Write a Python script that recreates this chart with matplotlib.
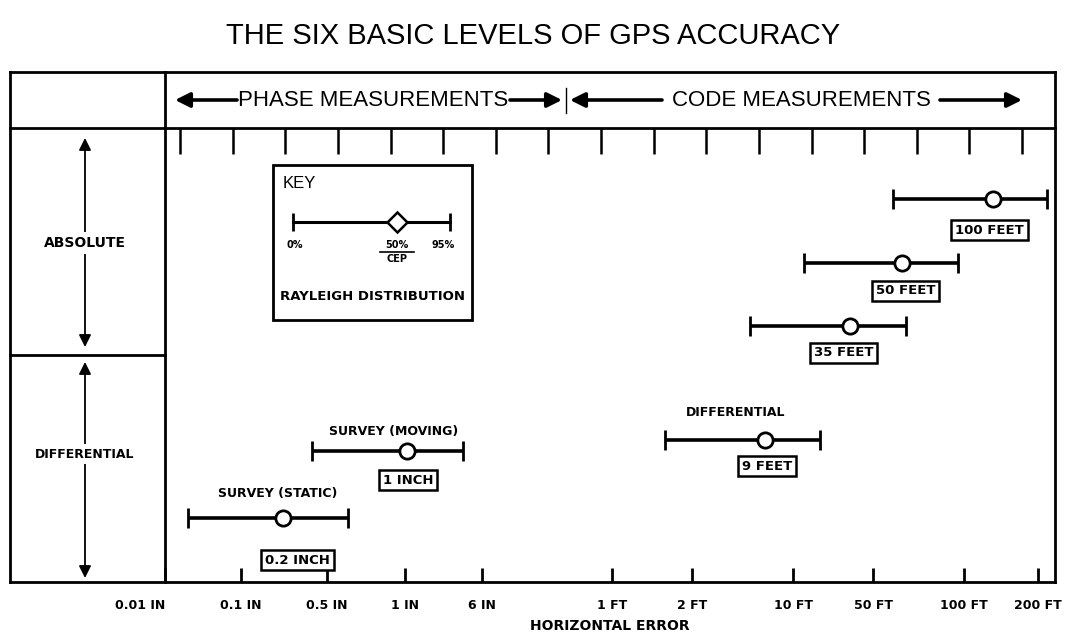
import numpy as np
import matplotlib
matplotlib.use('Agg')
import matplotlib.pyplot as plt
from matplotlib.patches import Rectangle

# horizontal error, in inches: 0% / 50% (CEP) / 95% of a Rayleigh distribution
levels = ['100 FEET', '50 FEET', '35 FEET', '9 FEET', '1 INCH', '0.2 INCH']
low = [700, 150, 60, 19, 0.38, 0.02]
cep = [1570, 750, 380, 77, 1.05, 0.22]
high = [2600, 1150, 770, 205, 3.85, 0.6]
names = ['', '', '', 'DIFFERENTIAL', 'SURVEY (MOVING)', 'SURVEY (STATIC)']

tick_vals = [0.01, 0.1, 0.5, 1, 6, 12, 24, 120, 600, 1200, 2400]
tick_labels = ['0.01 IN', '0.1 IN', '0.5 IN', '1 IN', '6 IN', '1 FT', '2 FT',
               '10 FT', '50 FT', '100 FT', '200 FT']

W, H = 1067, 636
THIN = ['Liberation Sans', 'DejaVu Sans']
BOLD = ['DejaVu Sans']

# the drawing's axis is hand spaced, not a true log axis: piecewise log scale
node_vals = np.log10(tick_vals + [2800])
node_pos = np.array([165, 241, 327, 405, 482, 612, 692, 793, 873, 964, 1038, 1055.])


def fwd(x):
    return np.interp(np.log10(np.clip(x, 1e-6, None)), node_vals, node_pos)


def inv(p):
    return 10 ** np.interp(p, node_pos, node_vals)


fig = plt.figure(figsize=(W / 100, H / 100), dpi=100)
fig.text(0.5, 1 - 36 / H, 'THE SIX BASIC LEVELS OF GPS ACCURACY', ha='center',
         va='center', fontsize=21, family=THIN)

ax = fig.add_axes([165 / W, 1 - 582 / H, 890 / W, 510 / H])
ax.set_facecolor('none')
ax.set_xscale('function', functions=(fwd, inv))
ax.set_xlim(0.01, 2800)
ax.set_ylim(582, 72)
for s in ax.spines.values():
    s.set_linewidth(2)
ax.set_yticks([])
ax.set_xticks(tick_vals)
ax.set_xticklabels(tick_labels, fontsize=9, fontweight='bold', family=BOLD)
ax.xaxis.set_minor_locator(matplotlib.ticker.NullLocator())
ax.tick_params(axis='x', direction='in', length=10, width=2, pad=12)
ax.get_xticklabels()[0].set_ha('right')
ax.set_xlabel('HORIZONTAL ERROR', fontsize=10, fontweight='bold', family=BOLD,
              labelpad=5)

# rows (pixel-like y of the drawing) and label placement
rows = [199, 263, 326, 440, 451, 518]
box_off = [(-3, 31), (3, 28), (-7, 27), (2, 26), (1, 29), (14, 42)]
name_off = [None, None, None, (-30, -28), (-13, -19), (-5, -25)]

cep_arr = np.array(cep)
err = [cep_arr - np.array(low), np.array(high) - cep_arr]
ax.errorbar(cep, rows, xerr=err, fmt='o', color='black', ecolor='black',
            elinewidth=2.6, capsize=7, capthick=2, ms=11,
            mfc='white', mec='black', mew=2, zorder=3)

for i, lab in enumerate(levels):
    dx, dy = box_off[i]
    ax.annotate(lab, (cep[i], rows[i]), xytext=(dx, -dy),
                textcoords='offset pixels', ha='center', va='center',
                fontsize=9.5, fontweight='bold', family=BOLD,
                bbox=dict(boxstyle='square,pad=0.3', fc='white', ec='black', lw=1.8))
    if names[i]:
        dx, dy = name_off[i]
        ax.annotate(names[i], (cep[i], rows[i]), xytext=(dx, -dy),
                    textcoords='offset pixels', ha='center', va='center',
                    fontsize=9, fontweight='bold', family=BOLD)

# decoration layer in drawing pixels
d = fig.add_axes([0, 0, 1, 1], zorder=5)
d.set_xlim(0, W)
d.set_ylim(H, 0)
d.axis('off')
d.patch.set_alpha(0)

lw = 2
d.plot([10, 10], [72, 582], color='black', lw=lw)
d.plot([10, 165], [72, 72], color='black', lw=lw)
d.plot([10, 165], [582, 582], color='black', lw=lw)
d.plot([10, 165], [355, 355], color='black', lw=lw)
d.plot([10, 1055], [128, 128], color='black', lw=lw)
d.vlines(np.linspace(180, 1022, 17), 128, 154, color='black', lw=1.8)

arrow = dict(arrowstyle='-|>', color='black', lw=2.6, mutation_scale=22,
             shrinkA=0, shrinkB=0)
for tail, head in [(237, 175), (510, 562), (662, 570), (940, 1022)]:
    d.annotate('', xy=(head, 100), xytext=(tail, 100), arrowprops=arrow)
d.plot([566, 566], [88, 113], color='black', lw=1)
d.text(373, 100, 'PHASE MEASUREMENTS', ha='center', va='center', fontsize=16,
       family=THIN)
d.text(801, 100, 'CODE MEASUREMENTS', ha='center', va='center', fontsize=16,
       family=THIN)

varrow = dict(arrowstyle='<|-|>', color='black', lw=1.3, mutation_scale=18,
              shrinkA=0, shrinkB=0)
d.annotate('', xy=(85, 138), xytext=(85, 347), arrowprops=varrow)
d.annotate('', xy=(85, 362), xytext=(85, 578), arrowprops=varrow)
d.text(85, 243, 'ABSOLUTE', ha='center', va='center', fontsize=10,
       fontweight='bold', family=BOLD,
       bbox=dict(boxstyle='square,pad=0.3', fc='white', ec='none'))
d.text(85, 454, 'DIFFERENTIAL', ha='center', va='center', fontsize=9,
       fontweight='bold', family=BOLD,
       bbox=dict(boxstyle='square,pad=0.3', fc='white', ec='none'))

# key
d.add_patch(Rectangle((273, 165), 199, 155, fill=False, ec='black', lw=2))
d.text(283, 183, 'KEY', ha='left', va='center', fontsize=12, family=THIN)
d.plot([293, 450], [222, 222], color='black', lw=2.2)
d.vlines([293, 450], 213, 231, color='black', lw=2)
d.plot([397], [222], marker='D', ms=10, mfc='white', mec='black', mew=1.8)
d.text(295, 245, '0%', ha='center', va='center', fontsize=7, fontweight='bold',
       family=BOLD)
d.text(397, 245, '50%', ha='center', va='center', fontsize=7, fontweight='bold',
       family=BOLD)
d.plot([380, 414], [252, 252], color='black', lw=1.2)
d.text(397, 259, 'CEP', ha='center', va='center', fontsize=7, fontweight='bold',
       family=BOLD)
d.text(443, 245, '95%', ha='center', va='center', fontsize=7, fontweight='bold',
       family=BOLD)
d.text(372, 297, 'RAYLEIGH DISTRIBUTION', ha='center', va='center', fontsize=9.5,
       fontweight='bold', family=BOLD)

fig.savefig('out.png', dpi=100)
